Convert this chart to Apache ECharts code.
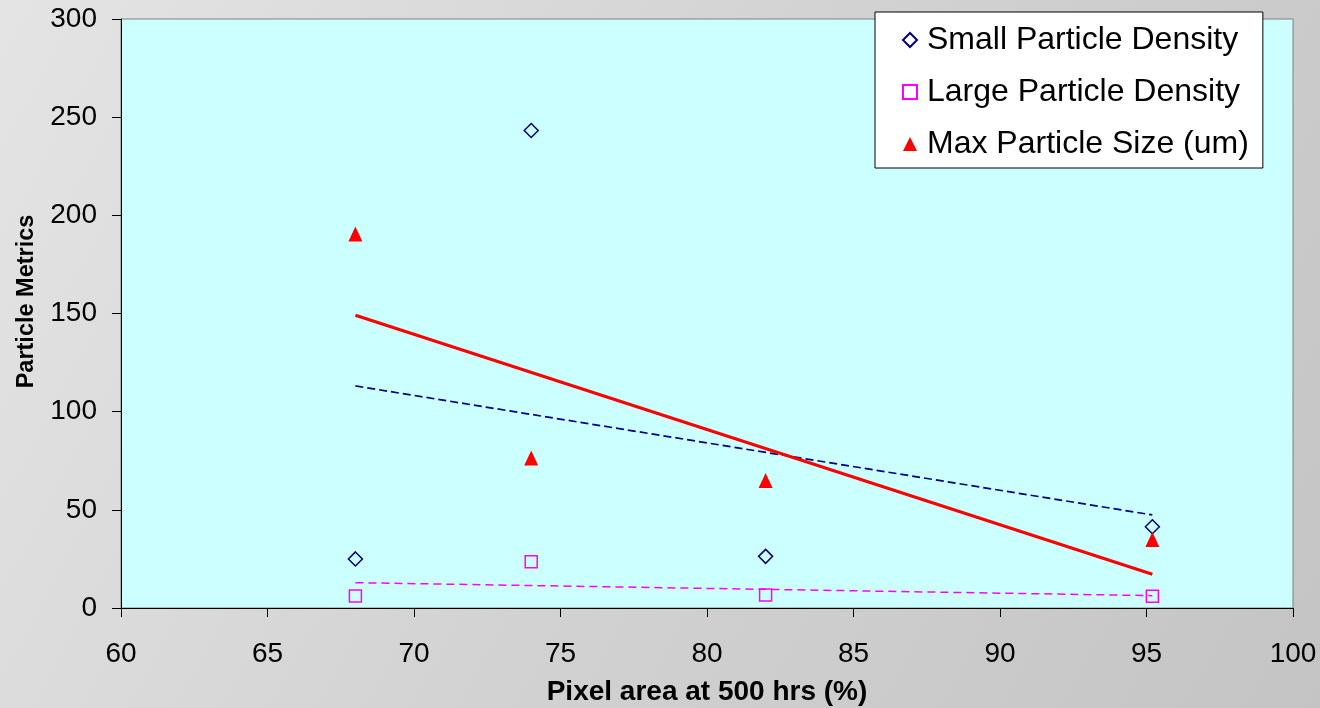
<!DOCTYPE html>
<html>
<head>
<meta charset="utf-8">
<script src="https://cdn.jsdelivr.net/npm/echarts@6/dist/echarts.min.js"></script>
<style>
html,body{margin:0;padding:0;width:1320px;height:708px;overflow:hidden;}
#chart{width:1320px;height:708px;}
</style>
</head>
<body>
<div id="chart"></div>
<script>
// Data
const pixelArea = [68, 74, 82, 95.2];
const smallDensity = [25, 243.2, 26.3, 41.4];
const largeDensity = [6.1, 23.6, 6.6, 6.0];
const maxSize = [190.5, 76.4, 65, 34.9];
// Linear trendline end points
const trendX = [68, 95.2];
const smallTrend = [113.1, 47.4];
const largeTrend = [12.9, 6.3];
const maxTrend = [149.1, 17.2];
const seriesNames = ['Small Particle Density', 'Large Particle Density', 'Max Particle Size (um)'];

const pairs = (xs, ys) => xs.map((x, i) => [x, ys[i]]);
const FONT = 'Arial, "Liberation Sans", sans-serif';

const chart = echarts.init(document.getElementById('chart'), null, {renderer: 'canvas'});
chart.setOption({
  backgroundColor: {
    type: 'linear', x: 0, y: 0, x2: 1, y2: 1,
    colorStops: [{offset: 0, color: '#e4e4e4'}, {offset: 0.5, color: '#d2d2d2'}, {offset: 1, color: '#c4c4c4'}]
  },
  animation: false,
  textStyle: {fontFamily: FONT},
  grid: {
    left: 121, top: 19, right: 27, bottom: 100,
    outerBoundsMode: 'none', containLabel: false,
    show: true, backgroundColor: '#CCFFFF', borderColor: '#808080', borderWidth: 1
  },
  legend: {
    orient: 'vertical', left: 875, top: 12,
    padding: [12, 14, 8, 27],
    backgroundColor: '#ffffff', borderColor: '#000000', borderWidth: 1,
    itemWidth: 14, itemHeight: 14, itemGap: 20,
    textStyle: {fontSize: 32, color: '#000', fontFamily: FONT, lineHeight: 32, padding: [0, 0, 0, 5]},
    data: seriesNames
  },
  xAxis: {
    type: 'value', min: 60, max: 100, interval: 5,
    name: 'Pixel area at 500 hrs (%)', nameLocation: 'middle', nameGap: 70,
    nameTextStyle: {fontSize: 28, fontWeight: 'bold', color: '#000', fontFamily: FONT},
    axisLine: {show: true, lineStyle: {color: '#000', width: 1}},
    axisTick: {show: true, inside: false, length: 9, lineStyle: {color: '#000'}},
    axisLabel: {fontSize: 28, color: '#000', margin: 32, fontFamily: FONT},
    splitLine: {show: false}
  },
  yAxis: {
    type: 'value', min: 0, max: 300, interval: 50,
    name: 'Particle Metrics', nameLocation: 'middle', nameGap: 82, nameRotate: 90,
    nameTextStyle: {fontSize: 23.5, fontWeight: 'bold', color: '#000', fontFamily: FONT, padding: [0, 0, 0, 24]},
    axisLine: {show: true, lineStyle: {color: '#000', width: 1}},
    axisTick: {show: true, inside: false, length: 9, lineStyle: {color: '#000'}},
    axisLabel: {fontSize: 28, color: '#000', margin: 24, fontFamily: FONT},
    splitLine: {show: false}
  },
  series: [
    {
      name: seriesNames[1] + ' trend', type: 'line', data: pairs(trendX, largeTrend),
      symbol: 'none', lineStyle: {color: '#FF00FF', width: 1.5, type: [8, 5]}, silent: true, z: 2
    },
    {
      name: seriesNames[0] + ' trend', type: 'line', data: pairs(trendX, smallTrend),
      symbol: 'none', lineStyle: {color: '#000080', width: 1.7, type: [8, 4]}, silent: true, z: 2
    },
    {
      name: seriesNames[2] + ' trend', type: 'line', data: pairs(trendX, maxTrend),
      symbol: 'none', lineStyle: {color: '#FF0000', width: 3}, silent: true, z: 2
    },
    {
      name: seriesNames[0], type: 'scatter', data: pairs(pixelArea, smallDensity),
      symbol: 'diamond', symbolSize: 14,
      itemStyle: {color: 'rgba(0,0,0,0)', borderColor: '#000080', borderWidth: 1.5, opacity: 1}, z: 3
    },
    {
      name: seriesNames[1], type: 'scatter', data: pairs(pixelArea, largeDensity),
      symbol: 'rect', symbolSize: 12,
      itemStyle: {color: 'rgba(0,0,0,0)', borderColor: '#FF00FF', borderWidth: 1.5, opacity: 1}, z: 3
    },
    {
      name: seriesNames[2], type: 'scatter', data: pairs(pixelArea, maxSize),
      symbol: 'triangle', symbolSize: [14, 15],
      itemStyle: {color: '#FF0000', opacity: 1}, z: 3
    }
  ]
});
</script>
</body>
</html>
